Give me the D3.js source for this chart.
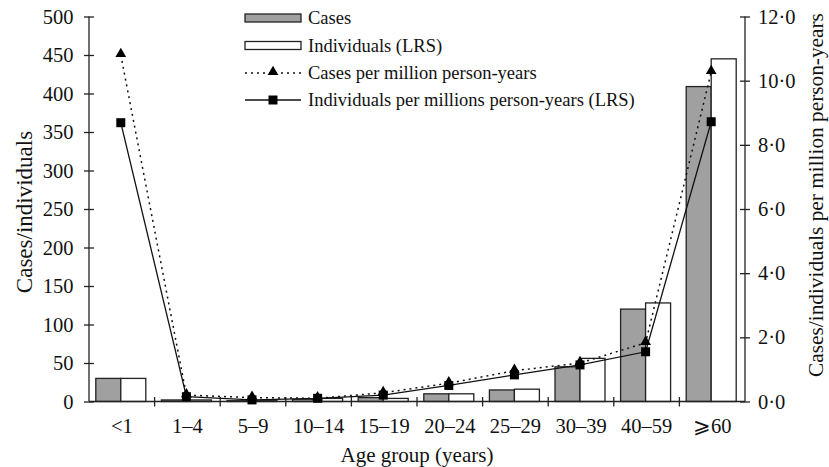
<!DOCTYPE html>
<html><head><meta charset="utf-8">
<script src="https://cdn.jsdelivr.net/npm/d3@7"></script>
<style>body{margin:0;background:#fff}svg{display:block;font-family:"Liberation Serif","Times New Roman",serif}</style>
</head><body><svg id="c" width="829" height="467"></svg>
<script>
const categories = ["<1","1–4","5–9","10–14","15–19","20–24","25–29","30–39","40–59","⩾60"];
const cases = [30, 2, 1, 3, 5, 10, 15, 45, 120, 409];
const individuals = [30, 2, 1, 4, 4, 10, 16, 56, 128, 445];
const casesRate = [10.8, 0.2, 0.12, 0.1, 0.27, 0.57, 0.96, 1.2, 1.83, 10.27];
const indivRate = [8.69, 0.15, 0.05, 0.1, 0.2, 0.5, 0.83, 1.14, 1.55, 8.72];
const leftTicks = [0,50,100,150,200,250,300,350,400,450,500];
const rightTicks = [0,2,4,6,8,10,12];

const svg = d3.select("#c");
const x0 = 89, x1 = 745, yTop = 16.5, yBot = 401.5;
const band = d3.scaleBand().domain(categories).range([x0, x1]);
const yL = d3.scaleLinear().domain([0, 500]).range([yBot, yTop]);
const yR = d3.scaleLinear().domain([0, 12]).range([yBot, yTop]);
const bw = 25;
const cx = c => band(c) + band.bandwidth()/2 - 1;
const FF = "Liberation Serif, serif";
const fs = 20.5, lfs = 18.5;

// bars
const g = svg.append("g");
g.selectAll("rect.cases").data(categories).join("rect")
  .attr("x", (c)=>cx(c)-bw).attr("y", (c,i)=>yL(cases[i])).attr("width", bw)
  .attr("height", (c,i)=>yBot-yL(cases[i])).attr("fill","#a0a0a0").attr("stroke","#222").attr("stroke-width",1.3);
g.selectAll("rect.ind").data(categories).join("rect")
  .attr("x", (c)=>cx(c)).attr("y", (c,i)=>yL(individuals[i])).attr("width", bw)
  .attr("height", (c,i)=>yBot-yL(individuals[i])).attr("fill","#fff").attr("stroke","#222").attr("stroke-width",1.3);

// axes
const axL = svg.append("g").attr("transform",`translate(${x0},0)`)
  .call(d3.axisLeft(yL).tickValues(leftTicks).tickSize(5).tickPadding(10.5).tickFormat(d3.format("d")));
axL.selectAll(".tick line").attr("x2",5).attr("x1",-5);
const axR = svg.append("g").attr("transform",`translate(${x1},0)`)
  .call(d3.axisRight(yR).tickValues(rightTicks).tickSize(5).tickPadding(8).tickFormat(d=>d.toFixed(1).replace(".","·")));
axR.selectAll(".tick line").attr("x1",-5).attr("x2",5);
const axB = svg.append("g").attr("transform",`translate(0,${yBot})`)
  .call(d3.axisBottom(band).tickSize(0).tickPadding(17));
axB.selectAll(".tick line").remove();
[axL, axR, axB].forEach(a=>{
  a.attr("font-family", FF);
  a.selectAll("text").attr("font-family",FF).attr("font-size",fs).attr("fill","#111");
  a.selectAll("line,path").attr("stroke","#222").attr("stroke-width",1.3);
});
axL.select(".domain").attr("d",`M0,${yTop}V${yBot}`);
axR.select(".domain").attr("d",`M0,${yTop}V${yBot}`);
axB.select(".domain").attr("d",`M${x0},0H${x1}`);
// category separators
svg.append("g").selectAll("line").data(categories.slice(1)).join("line")
  .attr("x1",c=>band(c)).attr("x2",c=>band(c)).attr("y1",yBot-4.5).attr("y2",yBot+5)
  .attr("stroke","#222").attr("stroke-width",1.3);

// lines
const lineC = d3.line().x((d,i)=>cx(categories[i])).y(d=>yR(d));
svg.append("path").attr("d", lineC(casesRate)).attr("fill","none").attr("stroke","#111")
  .attr("stroke-width",1.5).attr("stroke-dasharray","2,4");
svg.append("path").attr("d", lineC(indivRate)).attr("fill","none").attr("stroke","#111").attr("stroke-width",1.3);
const tri = d3.symbol().type(d3.symbolTriangle).size(50);
svg.append("g").selectAll("path").data(casesRate).join("path")
  .attr("d", tri).attr("transform",(d,i)=>`translate(${cx(categories[i])},${yR(d)-1})`).attr("fill","#000");
svg.append("g").selectAll("rect").data(indivRate).join("rect")
  .attr("x",(d,i)=>cx(categories[i])-4.5).attr("y",d=>yR(d)-4.5).attr("width",9).attr("height",9).attr("fill","#000");

// legend
const legX = 245, legW = 56, legTx = 308, legY = [18, 45.5, 73, 100];
const lg = svg.append("g");
lg.append("rect").attr("x",legX).attr("y",legY[0]-4).attr("width",legW).attr("height",8).attr("fill","#a0a0a0").attr("stroke","#222").attr("stroke-width",1.3);
lg.append("rect").attr("x",legX).attr("y",legY[1]-4).attr("width",legW).attr("height",8).attr("fill","#fff").attr("stroke","#222").attr("stroke-width",1.3);
lg.append("line").attr("x1",legX).attr("x2",legX+legW).attr("y1",legY[2]).attr("y2",legY[2]).attr("stroke","#111").attr("stroke-width",1.5).attr("stroke-dasharray","2,4");
lg.append("path").attr("d",tri).attr("transform",`translate(${legX+legW/2},${legY[2]-1})`).attr("fill","#000");
lg.append("line").attr("x1",legX).attr("x2",legX+legW).attr("y1",legY[3]).attr("y2",legY[3]).attr("stroke","#111").attr("stroke-width",1.3);
lg.append("rect").attr("x",legX+legW/2-4.5).attr("y",legY[3]-4.5).attr("width",9).attr("height",9).attr("fill","#000");
const legLabels = ["Cases","Individuals (LRS)","Cases per million person-years","Individuals per millions person-years (LRS)"];
lg.selectAll("text").data(legLabels).join("text").attr("x",legTx).attr("y",(d,i)=>legY[i]).attr("dy","0.35em")
  .attr("font-size",lfs).attr("fill","#111").text(d=>d);

// titles
svg.append("text").attr("x",(x0+x1)/2).attr("y",461.5).attr("text-anchor","middle").attr("font-size",21).attr("fill","#111").text("Age group (years)");
svg.append("text").attr("transform",`translate(32,212) rotate(-90)`).attr("text-anchor","middle").attr("font-size",23).attr("fill","#111").text("Cases/individuals");
svg.append("text").attr("transform",`translate(823,195) rotate(-90)`).attr("text-anchor","middle").attr("font-size",21.3).attr("fill","#111").text("Cases/individuals per million person-years");
</script></body></html>
